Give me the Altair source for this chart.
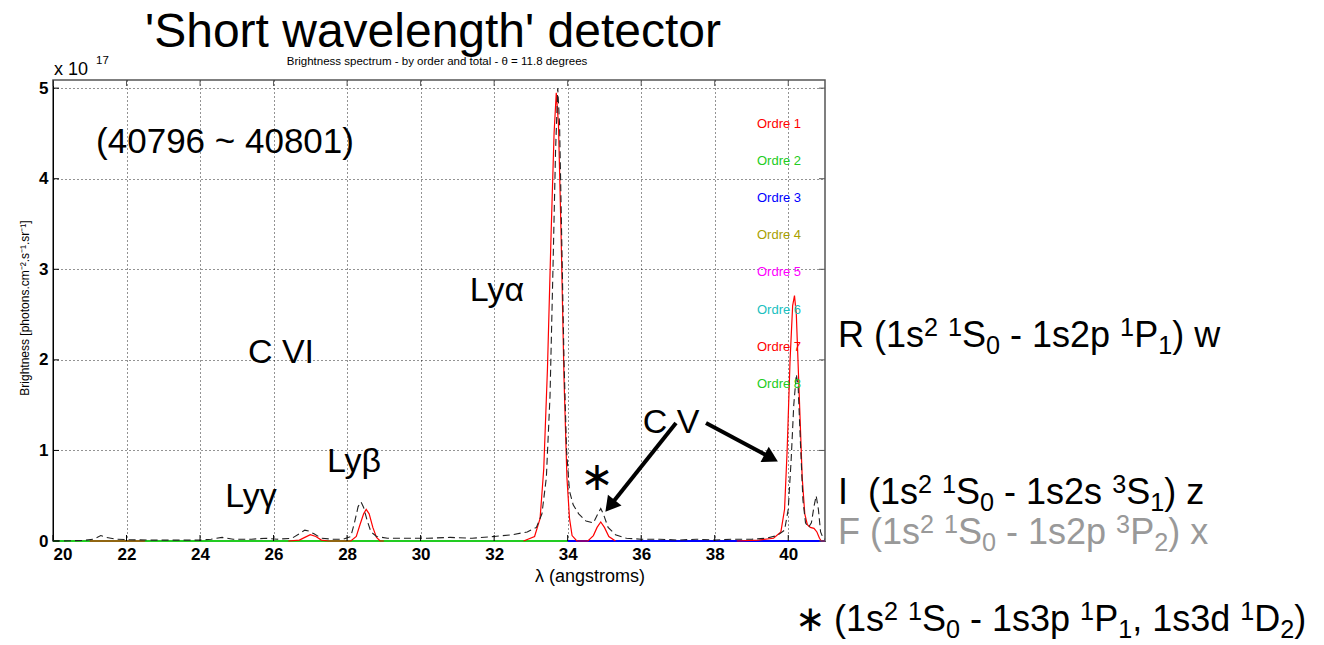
import math
import altair as alt
import pandas as pd

# ---------------- data (brightness in units of 1e17 photons.cm-2.s-1.sr-1) ----------------
total_x = [20.0, 20.8, 21.1, 21.3, 21.45, 21.7, 22.0, 22.6, 23.2, 24.0, 24.3, 24.6, 24.9, 25.4,
           25.8, 26.1, 26.5, 26.7, 26.85, 26.95, 27.1, 27.3, 27.6, 27.9, 28.1, 28.2, 28.3, 28.38,
           28.45, 28.55, 28.65, 28.8, 29.1, 29.6, 30.2, 30.8, 31.4, 32.0, 32.5, 32.9, 33.15, 33.3,
           33.42, 33.52, 33.6, 33.67, 33.73, 33.78, 33.84, 33.9, 33.97, 34.05, 34.15, 34.3, 34.5,
           34.7, 34.82, 34.9, 34.97, 35.1, 35.3, 35.6, 36.0, 36.5, 37.0, 37.5, 38.0, 38.5, 39.0,
           39.4, 39.7, 39.9, 40.0, 40.08, 40.15, 40.22, 40.27, 40.33, 40.4, 40.47, 40.55, 40.63,
           40.7, 40.76, 40.82, 40.88, 40.95, 41.0]
total_y = [0.0, 0.005, 0.02, 0.06, 0.04, 0.02, 0.015, 0.01, 0.01, 0.01, 0.02, 0.04, 0.02, 0.02,
           0.03, 0.02, 0.03, 0.08, 0.12, 0.11, 0.08, 0.03, 0.02, 0.02, 0.05, 0.2, 0.38, 0.43,
           0.37, 0.22, 0.1, 0.05, 0.03, 0.03, 0.03, 0.04, 0.03, 0.05, 0.07, 0.1, 0.15, 0.3,
           0.7, 1.6, 3.0, 4.3, 5.0, 4.6, 3.3, 2.0, 1.0, 0.55, 0.4, 0.3, 0.22,
           0.2, 0.3, 0.36, 0.3, 0.15, 0.07, 0.03, 0.02, 0.02, 0.01, 0.02, 0.01, 0.02, 0.02,
           0.03, 0.06, 0.12, 0.35, 0.9, 1.5, 1.84, 1.7, 1.1, 0.45, 0.2, 0.15, 0.2,
           0.38, 0.5, 0.35, 0.1, 0.03, 0.02]

order1_x = [21.0, 22.5,
            26.4, 26.7, 26.85, 27.0, 27.15, 27.3, 27.5, 28.1, 28.25, 28.35, 28.45, 28.52, 28.6,
            28.7, 28.8, 28.9, 29.0,
            32.8, 33.1, 33.25, 33.35, 33.45, 33.55, 33.63, 33.69, 33.75, 33.82, 33.9, 33.98,
            34.05, 34.12, 34.25, 34.55, 34.7, 34.8, 34.9, 35.0, 35.12, 35.3,
            38.6, 39.2, 39.6, 39.8, 39.9, 39.97, 40.05, 40.12, 40.17, 40.22, 40.3, 40.38, 40.45,
            40.52, 40.6, 40.7, 40.78, 40.85, 40.9, 41.0]
order1_y = [0.0, 0.0,
            0.0, 0.01, 0.04, 0.07, 0.05, 0.01, 0.0, 0.0, 0.05, 0.18, 0.3, 0.35, 0.3,
            0.15, 0.04, 0.0, 0.0,
            0.0, 0.05, 0.25, 0.8, 1.9, 3.4, 4.5, 4.95, 4.6, 3.4, 1.8, 0.7,
            0.25, 0.06, 0.0, 0.0, 0.06, 0.15, 0.21, 0.15, 0.05, 0.0,
            0.0, 0.01, 0.03, 0.1, 0.35, 1.0, 2.0, 2.6, 2.71, 2.5, 1.6, 0.7, 0.3,
            0.18, 0.15, 0.14, 0.1, 0.03, 0.0, 0.0]
order1_seg = [1] * 2 + [2] * 17 + [3] * 22 + [4] * 20

order2_x = [20.0, 41.0]
order2_y = [0.0, 0.0]
order3_x = [34.0, 41.0]
order3_y = [0.0, 0.0]

x_ticks = [20, 22, 24, 26, 28, 30, 32, 34, 36, 38, 40]
y_ticks = [0, 1, 2, 3, 4, 5]

order_labels = ["Ordre 1", "Ordre 2", "Ordre 3", "Ordre 4",
                "Ordre 5", "Ordre 6", "Ordre 7", "Ordre 8"]
order_colors = ["#ff0000", "#22cc22", "#0000ff", "#a8a000",
                "#ff00ff", "#20bfbf", "#ff0000", "#22cc22"]

# transition labels: (text, kind) pieces, kind n = normal, sup, sub
line_w = [("R", "n"), (" (1s", "n"), ("2", "sup"), (" ", "n"), ("1", "sup"), ("S", "n"), ("0", "sub"),
          (" - 1s2p ", "n"), ("1", "sup"), ("P", "n"), ("1", "sub"), (") w", "n")]
line_z = [("I", "n"), ("  (1s", "n"), ("2", "sup"), (" ", "n"), ("1", "sup"), ("S", "n"), ("0", "sub"),
          (" - 1s2s ", "n"), ("3", "sup"), ("S", "n"), ("1", "sub"), (") z", "n")]
line_x = [("F", "n"), (" (1s", "n"), ("2", "sup"), (" ", "n"), ("1", "sup"), ("S", "n"), ("0", "sub"),
          (" - 1s2p ", "n"), ("3", "sup"), ("P", "n"), ("2", "sub"), (") x", "n")]
line_star = [("(1s", "n"), ("2", "sup"), (" ", "n"), ("1", "sup"), ("S", "n"), ("0", "sub"),
             (" - 1s3p ", "n"), ("1", "sup"), ("P", "n"), ("1", "sub"), (", 1s3d ", "n"),
             ("1", "sup"), ("D", "n"), ("2", "sub"), (")", "n")]

# ---------------- layout ----------------
L, T = 53, 80          # plot origin in page pixels
W, H = 772, 461        # plot area
FONT = "Liberation Sans"

xs = alt.Scale(domain=[20, 41], nice=False, zero=False)
ys = alt.Scale(domain=[0, 5.09], nice=False, zero=False)

df_total = pd.DataFrame({"x": total_x, "y": total_y})
df_o1 = pd.DataFrame({"x": order1_x, "y": order1_y, "seg": order1_seg})
df_o2 = pd.DataFrame({"x": order2_x, "y": order2_y})
df_o3 = pd.DataFrame({"x": order3_x, "y": order3_y})

axis_common = dict(labelFont=FONT, labelFontSize=17, labelFontWeight="bold", labelColor="black",
                   tickSize=0, domainColor="black", domainWidth=1,
                   grid=True, gridColor="black", gridDash=[1, 3], gridOpacity=0.85, title=None)

base_o2 = alt.Chart(df_o2).mark_line(color="#22cc22", strokeWidth=2).encode(
    x=alt.X("x:Q", scale=xs, axis=alt.Axis(values=x_ticks, format="d", labelPadding=5, **axis_common)),
    y=alt.Y("y:Q", scale=ys, axis=alt.Axis(values=y_ticks, format="d", labelPadding=5, **axis_common)),
)
line_o3 = alt.Chart(df_o3).mark_line(color="#0000ff", strokeWidth=2).encode(
    x=alt.X("x:Q", scale=xs), y=alt.Y("y:Q", scale=ys))
line_o1 = alt.Chart(df_o1).mark_line(color="#ff0000", strokeWidth=1.2).encode(
    x=alt.X("x:Q", scale=xs), y=alt.Y("y:Q", scale=ys), detail="seg:N")
line_tot = alt.Chart(df_total).mark_line(color="#222222", strokeWidth=1.1, strokeDash=[7, 4]).encode(
    x=alt.X("x:Q", scale=xs), y=alt.Y("y:Q", scale=ys))

# inward ticks on all four sides
df_xt = pd.DataFrame({"v": x_ticks})
df_yt = pd.DataFrame({"v": y_ticks})
tk = 6
ticks = [
    alt.Chart(df_xt).mark_rule(color="black").encode(x=alt.X("v:Q", scale=xs), y=alt.value(H), y2=alt.value(H - tk)),
    alt.Chart(df_xt).mark_rule(color="#555555").encode(x=alt.X("v:Q", scale=xs), y=alt.value(0), y2=alt.value(tk)),
    alt.Chart(df_yt).mark_rule(color="black").encode(y=alt.Y("v:Q", scale=ys), x=alt.value(0), x2=alt.value(tk)),
    alt.Chart(df_yt).mark_rule(color="#555555").encode(y=alt.Y("v:Q", scale=ys), x=alt.value(W), x2=alt.value(W - tk)),
]


def txt(s, x, y, size, color="black", align="center", baseline="alphabetic", angle=None,
        weight="normal", font=FONT):
    kw = dict(fontSize=size, color=color, align=align, baseline=baseline, font=font, fontWeight=weight)
    if angle is not None:
        kw["angle"] = angle
    return alt.Chart(pd.DataFrame({"t": [s]})).mark_text(**kw).encode(
        x=alt.value(x - L), y=alt.value(y - T), text="t:N")


# Arial / Liberation Sans advance widths (em)
ADV = {" ": 0.278, "(": 0.333, ")": 0.333, "-": 0.333, ",": 0.278, "s": 0.5, "p": 0.556,
       "d": 0.556, "S": 0.667, "P": 0.667, "D": 0.722, "R": 0.722, "I": 0.278, "F": 0.611,
       "w": 0.722, "z": 0.5, "x": 0.5}


def adv(s):
    return sum(ADV.get(c, 0.556) for c in s)


def rich(pieces, x0, base, size, color="black"):
    rows = []
    x = x0
    small = size * 0.7
    for s, kind in pieces:
        fs = size if kind == "n" else small
        dy = {"n": 0.0, "sup": -0.31 * size, "sub": 0.2 * size}[kind]
        lead = len(s) - len(s.lstrip(" "))
        x += lead * ADV[" "] * fs
        core = s.strip(" ")
        if core:
            rows.append({"t": core, "px": x - L, "py": base + dy - T, "fs": fs})
        x += adv(core) * fs
        trail = len(s) - len(s.rstrip(" ")) if core else 0
        x += trail * ADV[" "] * fs
    return alt.Chart(pd.DataFrame(rows)).mark_text(
        align="left", baseline="alphabetic", font=FONT, color=color).encode(
        x=alt.X("px:Q", scale=None), y=alt.Y("py:Q", scale=None),
        size=alt.Size("fs:Q", scale=None, legend=None), text="t:N")


texts = [
    txt("'Short wavelength' detector", 433, 47, 48),
    txt("Brightness spectrum - by order and total - θ = 11.8 degrees", 437, 65, 11.5),
    txt("x 10", 54, 75, 18, align="left"),
    txt("17", 96, 64, 11.5, align="left"),
    txt("Brightness [photons.cm⁻².s⁻¹.sr⁻¹]", 25, 308, 12, angle=270, baseline="middle"),
    txt("λ (angstroms)", 590, 577, 18, baseline="middle"),
    txt("(40796 ~ 40801)", 225, 153, 35),
    txt("C VI", 281, 363, 34),
    txt("Lyα", 497, 301, 34),
    txt("Lyβ", 354, 472, 34),
    txt("Lyγ", 251, 507, 34),
    txt("C V", 671, 433, 34),
    txt("∗", 597, 490, 40, font="DejaVu Sans"),
    rich(line_w, 838, 347, 36),
    rich(line_z, 838, 504, 36),
    rich(line_x, 838, 544, 36, color="#999999"),
    txt("∗", 810, 631, 36, font="DejaVu Sans"),
    rich(line_star, 834, 631, 36),
]

# legend-like labels for the diffraction orders
df_leg = pd.DataFrame({"label": order_labels, "color": order_colors})
df_leg["row"] = range(len(df_leg))
legend = alt.Chart(df_leg).transform_calculate(
    py="124 - 80 + 37.1 * datum.row"
).mark_text(align="left", baseline="middle", font=FONT, fontSize=13).encode(
    x=alt.value(757 - L), y=alt.Y("py:Q", scale=None), text="label:N",
    color=alt.Color("color:N", scale=None))


# arrows (C V)
def arrow(x0, y0, x1, y1):
    dx, dy = x1 - x0, y1 - y0
    ln = math.hypot(dx, dy)
    ux, uy = dx / ln, dy / ln
    ang = math.degrees(math.atan2(ux, -uy)) % 360
    shaft = alt.Chart(pd.DataFrame({"a": [0]})).mark_rule(color="black", strokeWidth=4).encode(
        x=alt.value(x0 - L), y=alt.value(y0 - T),
        x2=alt.value(x1 - 12 * ux - L), y2=alt.value(y1 - 12 * uy - T))
    head = alt.Chart(pd.DataFrame({"a": [0]})).mark_point(
        shape="triangle", filled=True, color="black", opacity=1, size=300, angle=ang).encode(
        x=alt.value(x1 - 9 * ux - L), y=alt.value(y1 - 9 * uy - T))
    return [shaft, head]


arrows = arrow(676, 423, 606, 511) + arrow(706, 423, 777, 461)

chart = alt.layer(base_o2, line_o3, line_o1, line_tot, *ticks, legend, *arrows, *texts).properties(
    width=W, height=H,
    autosize=alt.AutoSizeParams(type="none"),
    padding={"left": L, "top": T, "right": 1324 - L - W, "bottom": 645 - T - H},
    background="white",
).configure_view(stroke="#555555", strokeWidth=1.5)

chart.save("out.html", embed_options={"renderer": "svg", "actions": False})
